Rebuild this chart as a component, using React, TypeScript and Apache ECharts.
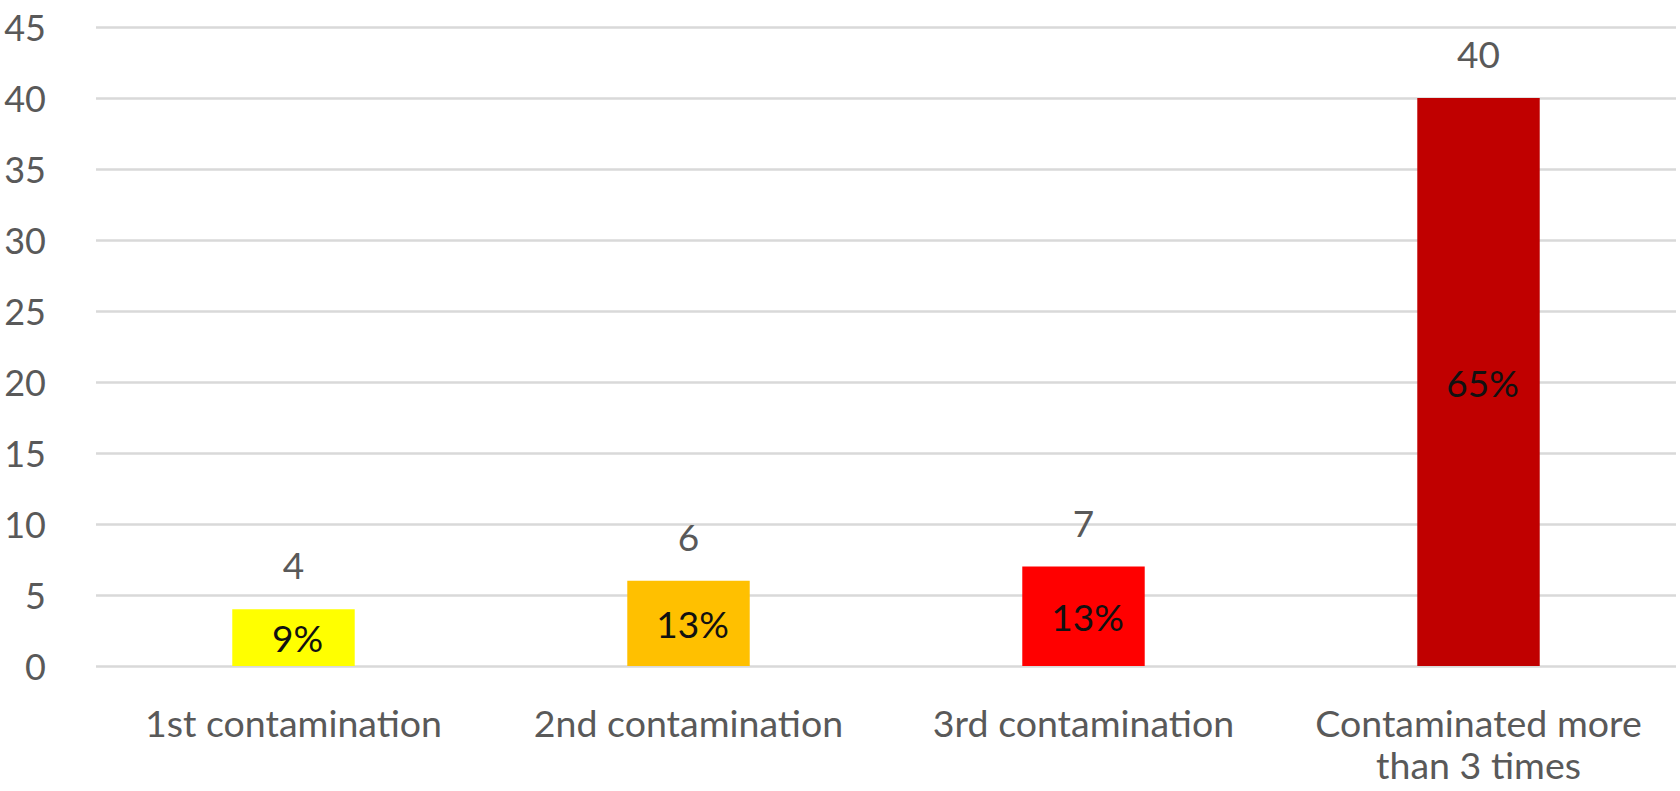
import React, { useEffect, useRef } from "react";
import * as echarts from "echarts";

const categories = [
  "1st contamination",
  "2nd contamination",
  "3rd contamination",
  "Contaminated more\nthan 3 times",
];
const counts = [4, 6, 7, 40];
const percentLabels = ["9%", "13%", "13%", "65%"];
const barColors = ["#FFFF00", "#FFC000", "#FF0000", "#C00000"];
const yTicks = { min: 0, max: 45, interval: 5 };

const FONT = "Lato";

export default function App() {
  const ref = useRef<HTMLDivElement>(null);
  useEffect(() => {
    document.body.style.margin = "0";
    const chart = echarts.init(ref.current!, null, { renderer: "svg" });
    chart.setOption({
      animation: false,
      backgroundColor: "#ffffff",
      grid: { left: 96, right: 4, top: 27, bottom: 125, containLabel: false },
      xAxis: {
        type: "category",
        data: categories,
        axisLine: { show: false },
        axisTick: { show: false },
        axisLabel: {
          color: "#595959",
          fontFamily: FONT,
          fontSize: 37.5,
          lineHeight: 42,
          margin: 35,
          verticalAlign: "top",
          interval: 0,
        },
      },
      yAxis: {
        type: "value",
        min: yTicks.min,
        max: yTicks.max,
        interval: yTicks.interval,
        axisLine: { show: false },
        axisTick: { show: false },
        axisLabel: {
          color: "#595959",
          fontFamily: FONT,
          fontSize: 36,
          margin: 50,
        },
        splitLine: { lineStyle: { color: "#d9d9d9", width: 2.7 } },
      },
      series: [
        {
          type: "bar",
          barWidth: "31%",
          data: counts.map((v, i) => ({ value: v, itemStyle: { color: barColors[i] } })),
          label: {
            show: true,
            position: "top",
            distance: 26,
            color: "#595959",
            fontFamily: FONT,
            fontSize: 37,
          },
        },
        {
          type: "bar",
          barWidth: "31%",
          barGap: "-100%",
          z: 5,
          data: counts.map((v) => ({ value: v, itemStyle: { color: "rgba(0,0,0,0)" } })),
          label: {
            show: true,
            position: "inside",
            offset: [4, 0],
            color: "#111111",
            fontFamily: FONT,
            fontSize: 37,
            formatter: (p: any) => percentLabels[p.dataIndex],
          },
        },
      ],
    });
    return () => chart.dispose();
  }, []);
  return <div ref={ref} style={{ width: 1680, height: 791 }} />;
}
